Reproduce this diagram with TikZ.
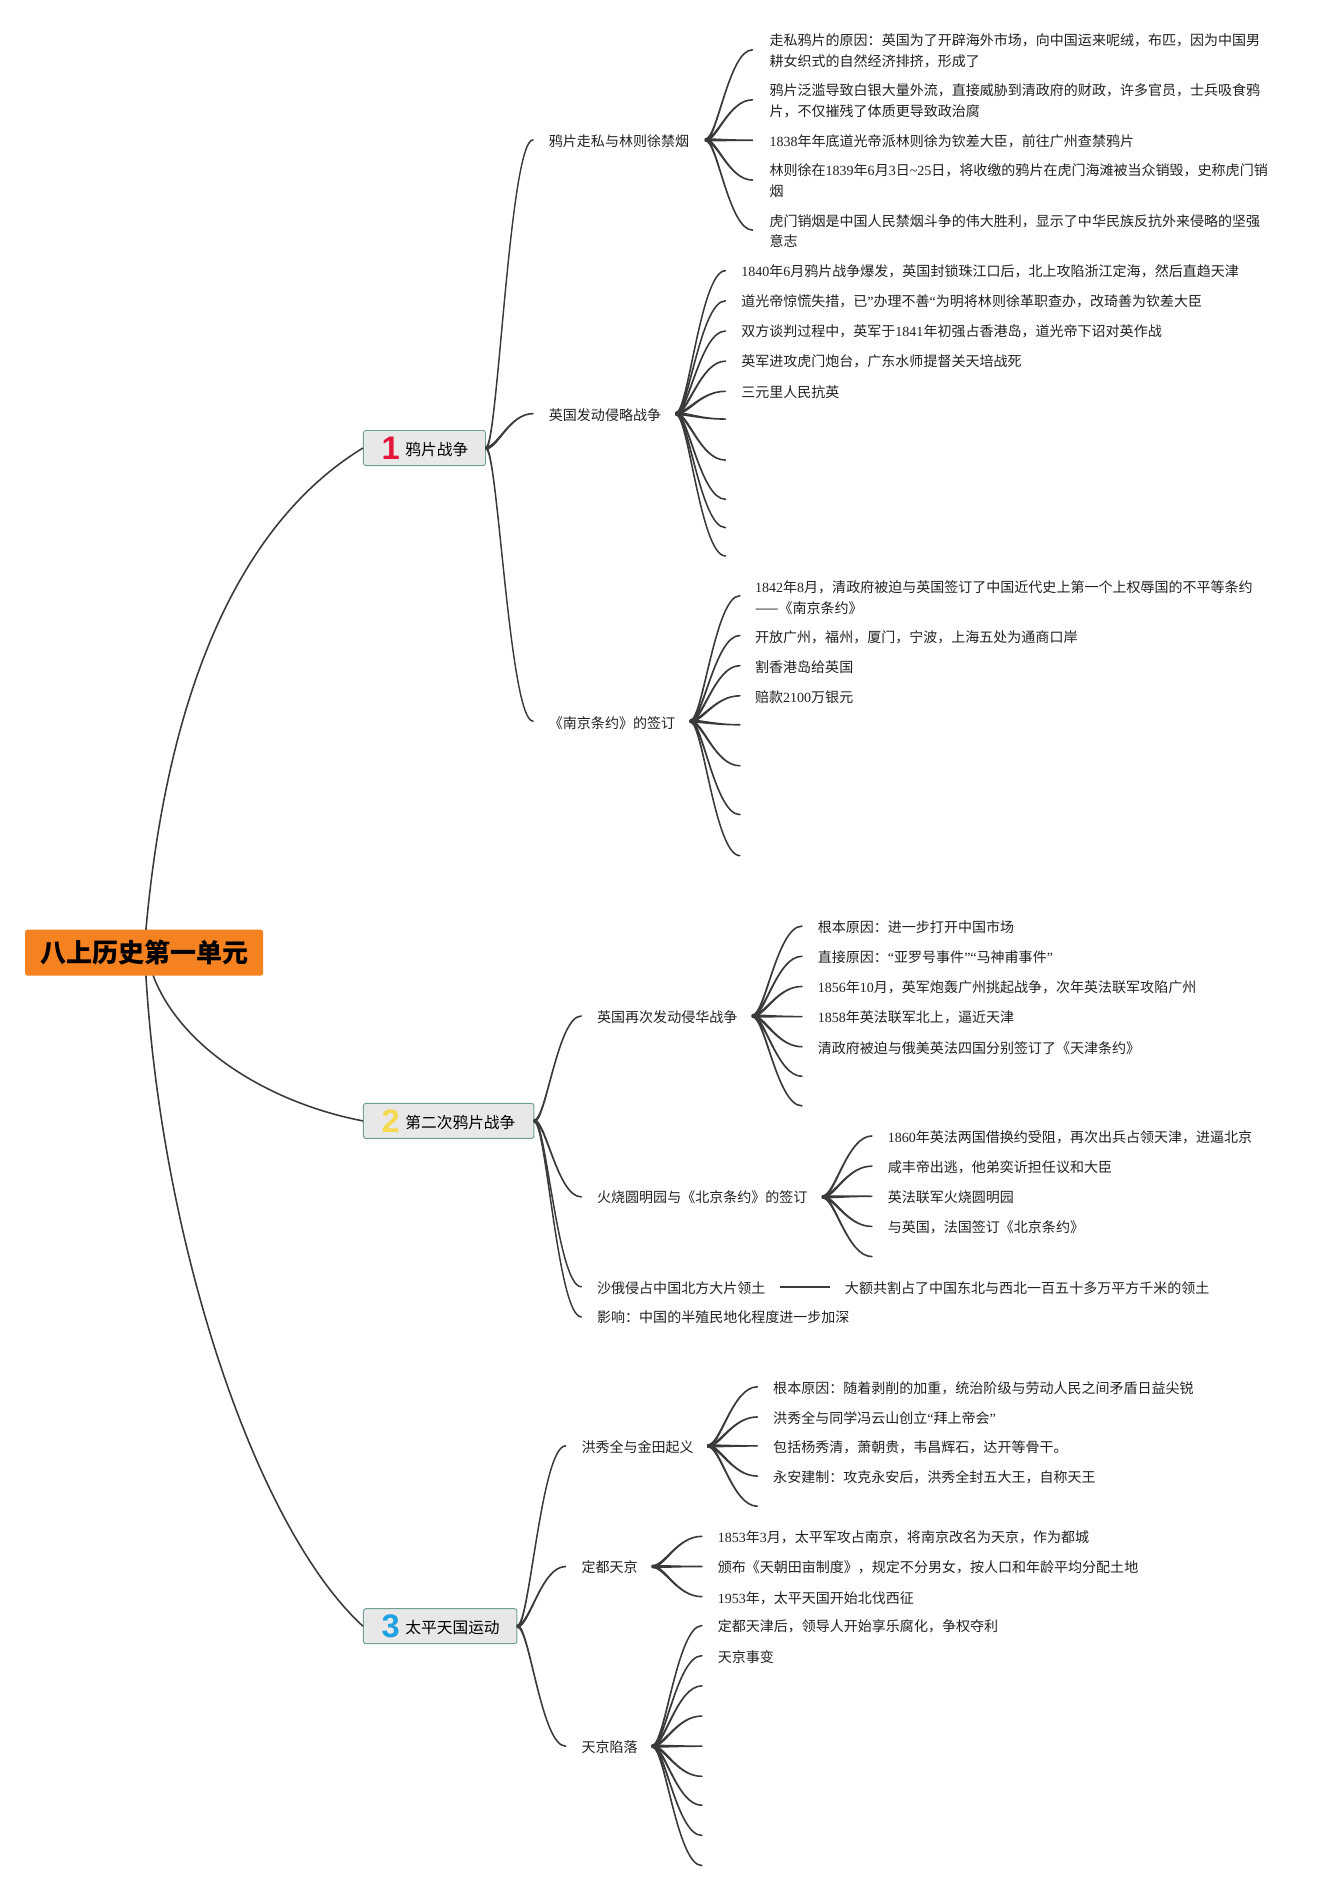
\documentclass[tikz,border=0pt]{standalone}
\usepackage{fontspec}
\setmainfont{Noto Sans CJK SC}
\newfontfamily\lt{Liberation Serif}
\newfontfamily\dg{Liberation Sans}
\newcommand{\nm}[1]{{\lt #1}}
\definecolor{rootor}{HTML}{F58220}
\definecolor{boxbg}{HTML}{E8E8E8}
\definecolor{boxln}{HTML}{6FA093}
\definecolor{lnk}{HTML}{3A3A3A}
\definecolor{txt}{HTML}{222222}
\usetikzlibrary{calc}
\newcommand{\conn}[2]{%
\filldraw[lnk,line width=1.1pt,line join=round] let \p1=(#1),\p2=(#2),\n1={\x2-\x1} in
 (\x1,\y1+.8) .. controls (\x1+.25*\n1,\y1+.8) and (\x1+.5*\n1,\y2+.1) .. (\x2,\y2+.1)
 -- (\x2,\y2-.1) .. controls (\x1+.5*\n1,\y2-.1) and (\x1+.25*\n1,\y1-.8) .. (\x1,\y1-.8) -- cycle;}
\tikzset{
 leaf/.style={anchor=west,inner sep=0pt,font=\fontsize{11.6}{17}\selectfont,text=txt,align=left},
 topic/.style={rectangle,rounded corners=2pt,draw=boxln,fill=boxbg,line width=.8pt,minimum height=29pt,inner sep=0pt,anchor=west},
 topictxt/.style={anchor=west,inner sep=0pt,font=\fontsize{13}{15}\selectfont,text=black},
 num/.style={anchor=center,inner sep=0pt,font=\dg\bfseries\fontsize{27}{27}\selectfont},
 rootlink/.style={lnk,line width=1.3pt},
}
\begin{document}
\begin{tikzpicture}[x=.998pt,y=-.998pt]
\useasboundingbox[fill=white] (0,0) rectangle (1102.2,1568.1);
% root
\node[rectangle,rounded corners=2pt,fill=rootor,minimum width=197pt,minimum height=38pt,inner sep=0pt,font=\bfseries\fontsize{21.5}{24}\selectfont,text=black] (root) at (119.5,790) {八上历史第一单元};
\coordinate (rootT) at (121,771);
\coordinate (rootB) at (127,809);
\coordinate (rootC) at (121,809);
% topics
\node[topic,minimum width=101pt] (t1) at (301,371.5) {};
\node[topic,minimum width=141pt] (t2) at (301,929.5) {};
\node[topic,minimum width=127pt] (t3) at (301,1348.5) {};
\node[num,text={rgb,255:red,228;green,22;blue,58}] (n1) at (324,371.5) {1};
\node[num,text={rgb,255:red,245;green,217;blue,78}] (n2) at (324,929.5) {2};
\node[num,text={rgb,255:red,31;green,160;blue,224}] (n3) at (324,1348.5) {3};
\node[topictxt] (tt1) at (336,373) {鸦片战争};
\node[topictxt] (tt2) at (336,931) {第二次鸦片战争};
\node[topictxt] (tt3) at (336,1350) {太平天国运动};
\draw[rootlink] (rootT) .. controls (140,560) and (205,430) .. (t1.west);
\draw[rootlink] (rootB) .. controls (150,870) and (225,915) .. (t2.west);
\draw[rootlink] (rootC) .. controls (135,1040) and (215,1270) .. (t3.west);
% ---- branch 1
\node[leaf] (a) at (455,117) {鸦片走私与林则徐禁烟};
\node[leaf] (b) at (455,344) {英国发动侵略战争};
\node[leaf] (c) at (455,599.5) {《南京条约》的签订};
\coordinate (ae) at (442,116); \coordinate (be) at (442,343); \coordinate (ce) at (442,598);
\coordinate (ah) at (585,116); \coordinate (bh) at (560.5,343); \coordinate (ch) at (572.5,598);
\conn{t1.east}{ae}\conn{t1.east}{be}\conn{t1.east}{ce}
\foreach \k/\y/\t in {
 1/42/{走私鸦片的原因：英国为了开辟海外市场，向中国运来呢绒，布匹，因为中国男\\耕女织式的自然经济排挤，形成了},
 2/83.5/{鸦片泛滥导致白银大量外流，直接威胁到清政府的财政，许多官员，士兵吸食鸦\\片，不仅摧残了体质更导致政治腐},
 3/117/{\nm{1838}年年底道光帝派林则徐为钦差大臣，前往广州查禁鸦片},
 4/150/{林则徐在\nm{1839}年\nm{6}月\nm{3}日\nm{\char`\~25}日，将收缴的鸦片在虎门海滩被当众销毁，史称虎门销\\烟},
 5/191.5/{虎门销烟是中国人民禁烟斗争的伟大胜利，显示了中华民族反抗外来侵略的坚强\\意志}}{
 \node[leaf] (a\k) at (638,\y) {\t};
 \coordinate (ae\k) at (624,\y-.7);
 \conn{ah}{ae\k}
}
\foreach \k/\y/\t in {
 1/225/{\nm{1840}年\nm{6}月鸦片战争爆发，英国封锁珠江口后，北上攻陷浙江定海，然后直趋天津},
 2/250/{道光帝惊慌失措，已\nm{”}办理不善\nm{“}为明将林则徐革职查办，改琦善为钦差大臣},
 3/275/{双方谈判过程中，英军于\nm{1841}年初强占香港岛，道光帝下诏对英作战},
 4/300/{英军进攻虎门炮台，广东水师提督关天培战死},
 5/325/{三元里人民抗英}}{
 \node[leaf] (b\k) at (614.5,\y) {\t};
 \coordinate (be\k) at (601.5,\y-.5);
 \conn{bh}{be\k}
}
\foreach \k/\y in {6/347.5,7/381.5,8/414,9/437.5,10/461}{
 \coordinate (be\k) at (601.5,\y);
 \conn{bh}{be\k}
}
\foreach \k/\y/\t in {
 1/495.5/{\nm{1842}年\nm{8}月，清政府被迫与英国签订了中国近代史上第一个上权辱国的不平等条约\\——《南京条约》},
 2/528.5/{开放广州，福州，厦门，宁波，上海五处为通商口岸},
 3/553.5/{割香港岛给英国},
 4/578.5/{赔款\nm{2100}万银元}}{
 \node[leaf] (c\k) at (626,\y) {\t};
 \coordinate (ce\k) at (613.5,\y-1.5);
 \conn{ch}{ce\k}
}
\foreach \k/\y in {5/601,6/635,7/675.5,8/709.5}{
 \coordinate (ce\k) at (613.5,\y);
 \conn{ch}{ce\k}
}
% ---- branch 2
\node[leaf] (d) at (495,843.5) {英国再次发动侵华战争};
\node[leaf] (e) at (495,993) {火烧圆明园与《北京条约》的签订};
\node[leaf] (f) at (495,1068) {沙俄侵占中国北方大片领土};
\node[leaf] (g) at (495,1092.5) {影响：中国的半殖民地化程度进一步加深};
\coordinate (de) at (482,842.5); \coordinate (ee) at (482,992.5); \coordinate (fe) at (482,1067); \coordinate (ge) at (482,1092);
\coordinate (dh) at (624,842.5); \coordinate (eh) at (682,992.5);
\conn{t2.east}{de}\conn{t2.east}{ee}\conn{t2.east}{fe}\conn{t2.east}{ge}
\foreach \k/\y/\t in {
 1/769/{根本原因：进一步打开中国市场},
 2/794/{直接原因：\nm{“}亚罗号事件\nm{”“}马神甫事件\nm{”}},
 3/819/{\nm{1856}年\nm{10}月，英军炮轰广州挑起战争，次年英法联军攻陷广州},
 4/844/{\nm{1858}年英法联军北上，逼近天津},
 5/869/{清政府被迫与俄美英法四国分别签订了《天津条约》}}{
 \node[leaf] (d\k) at (678,\y) {\t};
 \coordinate (de\k) at (665,\y-1);
 \conn{dh}{de\k}
}
\foreach \k/\y in {6/892.5,7/917}{
 \coordinate (de\k) at (665,\y);
 \conn{dh}{de\k}
}
\foreach \k/\y/\t in {
 1/943/{\nm{1860}年英法两国借换约受阻，再次出兵占领天津，进逼北京},
 2/968/{咸丰帝出逃，他弟奕䜣担任议和大臣},
 3/993/{英法联军火烧圆明园},
 4/1018/{与英国，法国签订《北京条约》}}{
 \node[leaf] (e\k) at (736,\y) {\t};
 \coordinate (ee\k) at (723,\y-1);
 \conn{eh}{ee\k}
}
\coordinate (ee5) at (723,1042);
\conn{eh}{ee5}
\node[leaf] (f1) at (700.5,1068) {大额共割占了中国东北与西北一百五十多万平方千米的领土};
\coordinate (fs) at (647,1067); \coordinate (fx) at (688,1067);
\draw[lnk,line width=1.4pt] (fs) -- (fx);
% ---- branch 3
\node[leaf] (h) at (482,1200) {洪秀全与金田起义};
\node[leaf] (i) at (482,1299.5) {定都天京};
\node[leaf] (j) at (482,1448.5) {天京陷落};
\coordinate (he) at (469,1199); \coordinate (ie) at (469,1299); \coordinate (je) at (469,1448);
\coordinate (hh) at (587,1199); \coordinate (ih) at (541,1299); \coordinate (jh) at (541,1448);
\conn{t3.east}{he}\conn{t3.east}{ie}\conn{t3.east}{je}
\foreach \k/\y/\t in {
 1/1151/{根本原因：随着剥削的加重，统治阶级与劳动人民之间矛盾日益尖锐},
 2/1176/{洪秀全与同学冯云山创立\nm{“}拜上帝会\nm{”}},
 3/1200/{包括杨秀清，萧朝贵，韦昌辉石，达开等骨干。},
 4/1225/{永安建制：攻克永安后，洪秀全封五大王，自称天王}}{
 \node[leaf] (h\k) at (641,\y) {\t};
 \coordinate (he\k) at (628,\y-1);
 \conn{hh}{he\k}
}
\coordinate (he5) at (628,1249);
\conn{hh}{he5}
\foreach \k/\y/\t in {
 1/1275/{\nm{1853}年\nm{3}月，太平军攻占南京，将南京改名为天京，作为都城},
 2/1300/{颁布《天朝田亩制度》，规定不分男女，按人口和年龄平均分配土地},
 3/1325/{\nm{1953}年，太平天国开始北伐西征}}{
 \node[leaf] (i\k) at (595,\y) {\t};
 \coordinate (ie\k) at (582,\y-1);
 \conn{ih}{ie\k}
}
\foreach \k/\y/\t in {
 1/1349/{定都天津后，领导人开始享乐腐化，争权夺利},
 2/1374/{天京事变}}{
 \node[leaf] (j\k) at (595,\y) {\t};
 \coordinate (je\k) at (582,\y-1);
 \conn{jh}{je\k}
}
\foreach \k/\y in {3/1398,4/1423,5/1448,6/1473,7/1497,8/1522,9/1547}{
 \coordinate (je\k) at (582,\y);
 \conn{jh}{je\k}
}
\end{tikzpicture}
\end{document}
